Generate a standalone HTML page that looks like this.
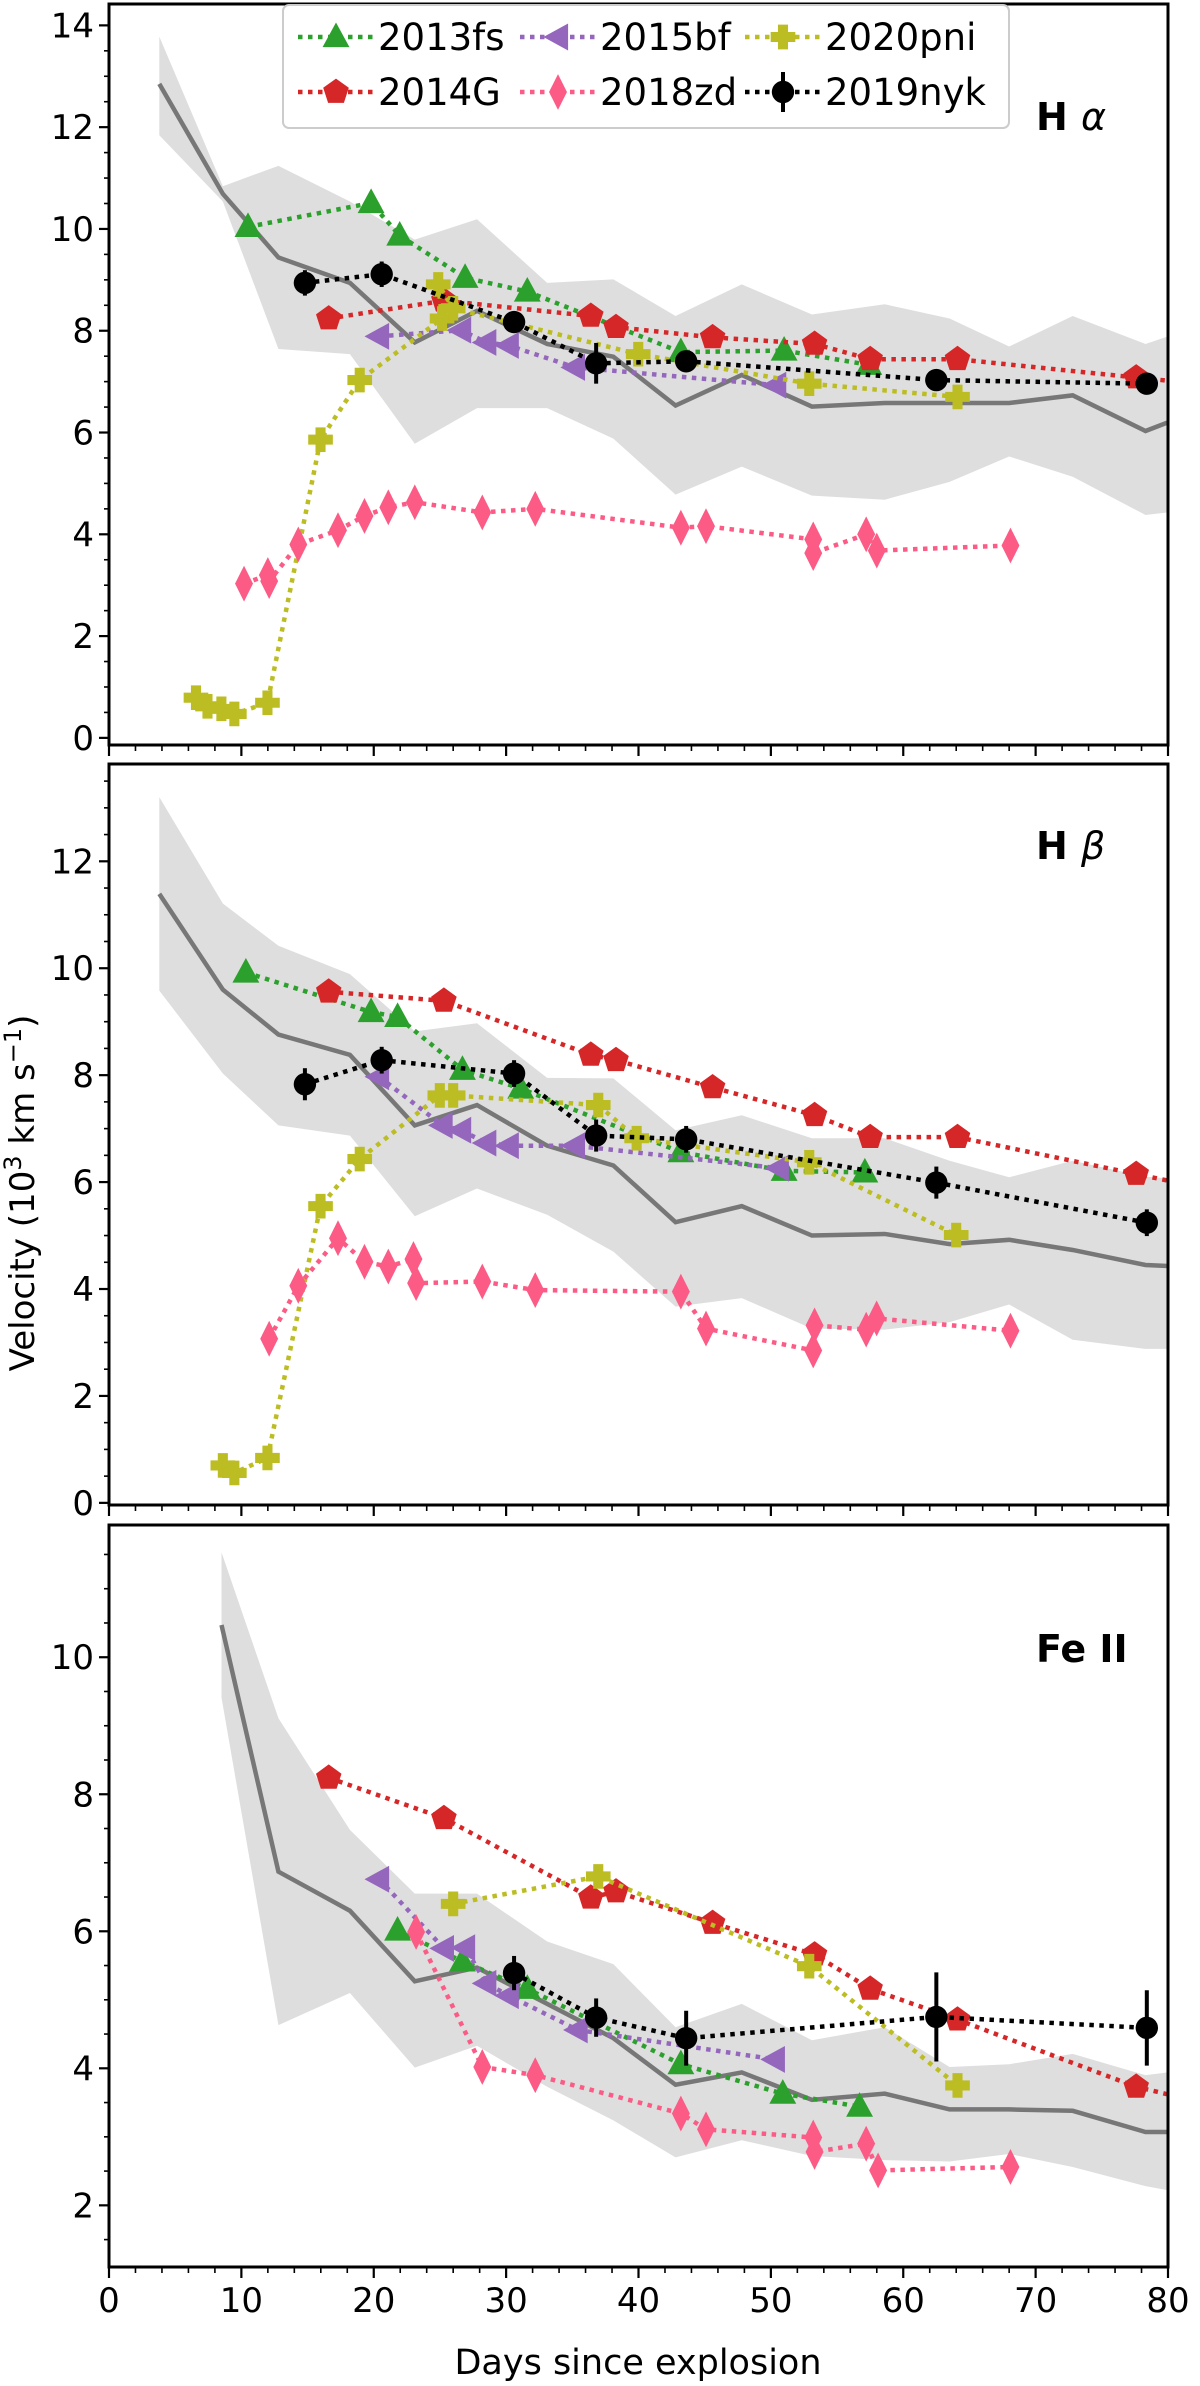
<!DOCTYPE html>
<html><head><meta charset="utf-8"><style>
html,body{margin:0;padding:0;background:#fff;}
svg{display:block;font-family:"DejaVu Sans","Liberation Sans",sans-serif;}
</style></head><body>
<svg id="chart" width="1200" height="2386" viewBox="0 0 1200 2386" xmlns="http://www.w3.org/2000/svg">
<text x="0" y="0" transform="translate(34,1193) rotate(-90)" text-anchor="middle" font-size="34">Velocity (10<tspan dy="-13" font-size="24">3</tspan><tspan dy="13"> km s</tspan><tspan dy="-13" font-size="24">−1</tspan><tspan dy="13">)</tspan></text>
<text x="638" y="2374" text-anchor="middle" font-size="35">Days since explosion</text>
</svg>
<script>
// ---------- data ----------
const bandDays = [3.8,8.6,12.8,18.2,23.1,27.8,33.1,38.1,42.8,47.8,53.1,58.6,63.5,68.0,72.8,78.3,80];
const haMean  = [12.85,10.69,9.44,8.94,7.77,8.39,7.74,7.49,6.53,7.13,6.51,6.58,6.58,6.58,6.73,6.03,6.2];
const haUpper = [13.78,10.84,11.24,10.54,9.79,10.19,8.94,9.01,8.29,8.91,8.32,8.52,8.24,7.69,8.29,7.74,7.89];
const haLower = [11.84,10.54,7.64,7.54,5.78,6.48,6.48,5.88,4.78,5.33,4.76,4.68,5.03,5.53,5.13,4.38,4.43];
const hbMean  = [11.39,9.60,8.76,8.38,7.06,7.44,6.68,6.31,5.25,5.55,5.00,5.03,4.84,4.92,4.73,4.45,4.43];
const hbUpper = [13.2,11.21,10.42,9.89,8.82,8.97,7.95,7.94,6.97,7.25,6.82,6.82,6.40,6.09,6.40,6.10,6.07];
const hbLower = [9.58,8.03,7.06,6.87,5.36,5.88,5.39,4.70,3.67,3.83,3.26,3.24,3.38,3.71,3.05,2.88,2.88];
const feBandDays = [8.5,12.8,18.2,23.1,27.8,33.1,38.1,42.8,47.8,53.1,58.6,63.5,68.0,72.8,78.3,80];
const feMean  = [10.47,6.87,6.30,5.27,5.47,4.94,4.44,3.76,3.94,3.54,3.63,3.40,3.40,3.38,3.07,3.07];
const feUpper = [11.53,9.11,7.48,6.55,6.55,5.85,5.52,4.60,4.94,4.41,4.60,4.02,4.06,4.21,3.90,3.94];
const feLower = [9.41,4.63,5.10,4.01,4.33,3.73,3.24,2.70,2.95,2.72,2.66,2.64,2.75,2.56,2.28,2.22];

const fsDaysA=[10.5,19.8,21.96,26.9,31.6,43.2,51.0,57.4], fsHa=[10.04,10.51,9.87,9.04,8.77,7.58,7.61,7.33];
const fsDaysB=[10.34,19.8,21.8,26.7,31.1,43.2,51.0,57.1], fsHb=[9.92,9.18,9.09,8.10,7.75,6.56,6.21,6.18];
const fsDaysC=[21.8,26.7,31.6,43.2,50.9,56.7], fsFe=[6.01,5.56,5.16,4.06,3.63,3.44];

const gDays=[16.6,25.3,36.4,38.3,45.6,53.3,57.5,64.1,77.6,81.5];
const gHa=[8.24,8.59,8.29,8.07,7.87,7.74,7.44,7.44,7.08,6.98];
const gHb=[9.56,9.39,8.38,8.28,7.77,7.25,6.84,6.84,6.15,5.95];
const gFe=[8.24,7.65,6.49,6.58,6.12,5.66,5.16,4.71,3.73,3.55];

const bfDaysA=[20.4,26.6,28.5,30.2,35.2,50.4], bfHa=[7.89,8.01,7.77,7.71,7.28,6.93];
const bfDaysB=[20.4,25.2,26.6,28.5,30.2,35.2,50.6], bfHb=[7.97,7.06,6.97,6.73,6.68,6.68,6.26];
const bfDaysC=[20.4,25.3,26.9,28.5,30.2,35.4,50.3], bfFe=[6.76,5.75,5.76,5.24,5.06,4.56,4.13];

const pniDaysA=[6.57,7.44,8.49,9.47,11.97,15.98,18.94,25.16,24.87,26.0,39.98,52.9,64.1];
const pniHa=[0.79,0.62,0.57,0.47,0.69,5.86,7.03,8.24,8.91,8.44,7.54,6.96,6.70];
const pniDaysB=[8.6,9.47,11.97,15.98,18.94,24.99,26.0,36.96,39.86,52.9,64.0];
const pniHb=[0.70,0.56,0.84,5.55,6.43,7.62,7.62,7.44,6.82,6.37,5.01];
const pniDaysC=[26.0,36.96,52.9,64.1], pniFe=[6.40,6.80,5.49,3.75];

const zdDaysA=[10.2,12.0,12.1,14.3,17.3,19.3,21.1,23.1,28.2,32.2,43.2,45.1,53.2,53.2,57.2,58.0,68.1];
const zdHa=[3.03,3.2,3.08,3.80,4.08,4.36,4.53,4.63,4.43,4.50,4.13,4.16,3.90,3.63,4.0,3.68,3.78];
const zdDaysB=[12.1,14.3,17.3,19.3,21.1,23.0,23.2,28.2,32.2,43.2,45.1,53.2,53.3,57.2,57.99,68.1];
const zdHb=[3.07,4.06,4.95,4.51,4.42,4.56,4.11,4.14,3.98,3.95,3.26,2.85,3.32,3.24,3.45,3.22];
const zdDaysC=[23.2,28.2,32.2,43.2,45.1,53.2,53.3,57.2,58.1,68.1];
const zdFe=[5.99,4.02,3.90,3.34,3.11,2.99,2.78,2.90,2.51,2.56];

const nykDaysA=[14.8,20.6,30.6,36.8,43.6,62.5,78.4];
const nykHa=[8.94,9.11,8.17,7.36,7.40,7.03,6.96], nykHaErr=[0.25,0.25,0.2,0.4,0.2,0.2,0.15];
const nykHb=[7.83,8.28,8.03,6.87,6.80,5.99,5.24], nykHbErr=[0.3,0.25,0.25,0.3,0.25,0.3,0.25];
const nykDaysC=[30.6,36.8,43.6,62.5,78.4];
const nykFe=[5.39,4.74,4.44,4.75,4.59], nykFeErr=[0.25,0.28,0.4,0.65,0.55];

const xTicks=[0,10,20,30,40,50,60,70,80];
const legendLabels=['2013fs','2015bf','2020pni','2014G','2018zd','2019nyk'];

// ---------- drawing ----------
const NS='http://www.w3.org/2000/svg';
const svg=document.getElementById('chart');
const X0=109,X1=1168;
const xs=d=>X0+(d/80)*(X1-X0);
function mk(tag,attrs,parent){const e=document.createElementNS(NS,tag);for(const k in attrs)e.setAttribute(k,attrs[k]);(parent||svg).appendChild(e);return e;}
const C={fs:'#2ca02c',g:'#d62728',bf:'#9467bd',pni:'#bcbd22',zd:'#fb5b85',nyk:'#000'};

function marker(g,type,x,y,col,s){
  s=s||1.12;let e;
  if(type==='tri'){e=mk('polygon',{points:`${x},${y-13*s} ${x-12*s},${y+9*s} ${x+12*s},${y+9*s}`,fill:col},g);}
  else if(type==='ltri'){e=mk('polygon',{points:`${x-13*s},${y} ${x+9*s},${y-12*s} ${x+9*s},${y+12*s}`,fill:col},g);}
  else if(type==='pent'){let p=[];for(let i=0;i<5;i++){const a=-Math.PI/2+i*2*Math.PI/5;p.push((x+12*s*Math.cos(a)).toFixed(1)+','+(y+12*s*Math.sin(a)).toFixed(1));}e=mk('polygon',{points:p.join(' '),fill:col},g);}
  else if(type==='plus'){const a=4.5*s,b=11*s;e=mk('path',{d:`M${x-a},${y-b}h${2*a}v${b-a}h${b-a}v${2*a}h${-(b-a)}v${b-a}h${-2*a}v${-(b-a)}h${-(b-a)}v${-2*a}h${b-a}z`,fill:col},g);}
  else if(type==='dia'){e=mk('polygon',{points:`${x},${y-16*s} ${x+8*s},${y} ${x},${y+16*s} ${x-8*s},${y}`,fill:col},g);}
  else {e=mk('circle',{cx:x,cy:y,r:10*s,fill:col},g);}
  return e;
}

function panel(id,top,bot,ymin,ymax,major,minorStep,bdays,mean,up,lo,series,label,showXLabels){
  const ys=v=>bot-(v-ymin)/(ymax-ymin)*(bot-top);
  const g=mk('g',{});
  
  
  const cp=mk('clipPath',{id:'clip-'+id},g);mk('rect',{x:X0,y:top,width:X1-X0,height:bot-top},cp);
  const pg=mk('g',{'clip-path':`url(#clip-${id})`},g);
  let pts=bdays.map((d,i)=>xs(d)+','+ys(up[i]));
  pts=pts.concat(bdays.map((d,i)=>xs(d)+','+ys(lo[i])).reverse());
  const band=mk('polygon',{points:pts.join(' '),fill:'#dedede'},pg);
  
  
  const ml=mk('polyline',{points:bdays.map((d,i)=>xs(d)+','+ys(mean[i])).join(' '),fill:'none',stroke:'#777','stroke-width':4.5},pg);
  
  
  series.forEach(s=>{
    const sg=mk('g',{},pg);
    
    
    mk('polyline',{points:s.d.map((d,i)=>xs(d)+','+ys(s.v[i])).join(' '),fill:'none',stroke:s.c,'stroke-width':4.5,'stroke-dasharray':'4.5 5.5'},sg);
    s.d.forEach((d,i)=>{
      if(s.e){mk('line',{x1:xs(d),x2:xs(d),y1:ys(s.v[i]-s.e[i]),y2:ys(s.v[i]+s.e[i]),stroke:s.c,'stroke-width':4},sg);}
      const m=marker(sg,s.m,xs(d),ys(s.v[i]),s.c);
      
      
    });
  });
  mk('rect',{x:X0,y:top,width:X1-X0,height:bot-top,fill:'none',stroke:'#000','stroke-width':3},g);
  for(let v=Math.ceil(ymin/minorStep)*minorStep;v<=ymax+1e-9;v+=minorStep){
    const isMaj=Math.abs(v/major-Math.round(v/major))<1e-6;
    mk('line',{x1:X0,x2:X0-(isMaj?10:5),y1:ys(v),y2:ys(v),stroke:'#000','stroke-width':isMaj?2.2:1.6},g);
    if(isMaj){const t=mk('text',{x:X0-15,y:ys(v)+12,'text-anchor':'end','font-size':34},g);t.textContent=Math.round(v);
      }
  }
  for(let d=0;d<=80;d+=2){
    const isMaj=d%10===0;
    mk('line',{x1:xs(d),x2:xs(d),y1:bot,y2:bot+(isMaj?11:6),stroke:'#000','stroke-width':isMaj?2.2:1.6},g);
  }
  if(showXLabels){xTicks.forEach(d=>{const t=mk('text',{x:xs(d),y:bot+45,'text-anchor':'middle','font-size':34},g);t.textContent=d;
      });}
  const lt=mk('text',{x:1036,y:label.y,'font-size':38,'font-weight':'bold'},g);
  
  lt.innerHTML=label.html;
}

panel('h-alpha',4,745,-0.14,14.42,2,0.5,bandDays,haMean,haUpper,haLower,[
 {name:'2013fs',d:fsDaysA,v:fsHa,c:C.fs,m:'tri'},
 {name:'2014G',d:gDays,v:gHa,c:C.g,m:'pent'},
 {name:'2015bf',d:bfDaysA,v:bfHa,c:C.bf,m:'ltri'},
 {name:'2020pni',d:pniDaysA,v:pniHa,c:C.pni,m:'plus'},
 {name:'2018zd',d:zdDaysA,v:zdHa,c:C.zd,m:'dia'},
 {name:'2019nyk',d:nykDaysA,v:nykHa,e:nykHaErr,c:C.nyk,m:'circ'}],
 {y:130,html:'H <tspan font-style="italic" font-weight="normal">α</tspan>'},false);

panel('h-beta',764,1505,-0.04,13.82,2,0.5,bandDays,hbMean,hbUpper,hbLower,[
 {name:'2013fs',d:fsDaysB,v:fsHb,c:C.fs,m:'tri'},
 {name:'2014G',d:gDays,v:gHb,c:C.g,m:'pent'},
 {name:'2015bf',d:bfDaysB,v:bfHb,c:C.bf,m:'ltri'},
 {name:'2020pni',d:pniDaysB,v:pniHb,c:C.pni,m:'plus'},
 {name:'2018zd',d:zdDaysB,v:zdHb,c:C.zd,m:'dia'},
 {name:'2019nyk',d:nykDaysA,v:nykHb,e:nykHbErr,c:C.nyk,m:'circ'}],
 {y:859,html:'H <tspan font-style="italic" font-weight="normal">β</tspan>'},false);

panel('fe-ii',1525,2267,1.1,11.93,2,0.5,feBandDays,feMean,feUpper,feLower,[
 {name:'2013fs',d:fsDaysC,v:fsFe,c:C.fs,m:'tri'},
 {name:'2014G',d:gDays,v:gFe,c:C.g,m:'pent'},
 {name:'2015bf',d:bfDaysC,v:bfFe,c:C.bf,m:'ltri'},
 {name:'2020pni',d:pniDaysC,v:pniFe,c:C.pni,m:'plus'},
 {name:'2018zd',d:zdDaysC,v:zdFe,c:C.zd,m:'dia'},
 {name:'2019nyk',d:nykDaysC,v:nykFe,e:nykFeErr,c:C.nyk,m:'circ'}],
 {y:1662,html:'Fe II'},true);

// legend
const lg=mk('g',{});


mk('rect',{x:283,y:5,width:726,height:123,rx:6,fill:'#fff','fill-opacity':0.85,stroke:'#ccc','stroke-width':2},lg);
const legCols=[298,520,745], legRows=[37,92];
const legMeta=[['fs','tri'],['bf','ltri'],['pni','plus'],['g','pent'],['zd','dia'],['nyk','circ']];
legendLabels.forEach((lab,i)=>{
  const x=legCols[i%3], y=legRows[Math.floor(i/3)], col=C[legMeta[i][0]];
  const eg=mk('g',{},lg);
  
  
  mk('line',{x1:x,x2:x+76,y1:y,y2:y,stroke:col,'stroke-width':4.5,'stroke-dasharray':'4.5 5.5'},eg);
  if(legMeta[i][1]==='circ')mk('line',{x1:x+38,x2:x+38,y1:y-20,y2:y+20,stroke:col,'stroke-width':4},eg);
  marker(eg,legMeta[i][1],x+38,y,col);
  const t=mk('text',{x:x+80,y:y+13,'font-size':37},eg);t.textContent=lab;
});
</script>
</body></html>
